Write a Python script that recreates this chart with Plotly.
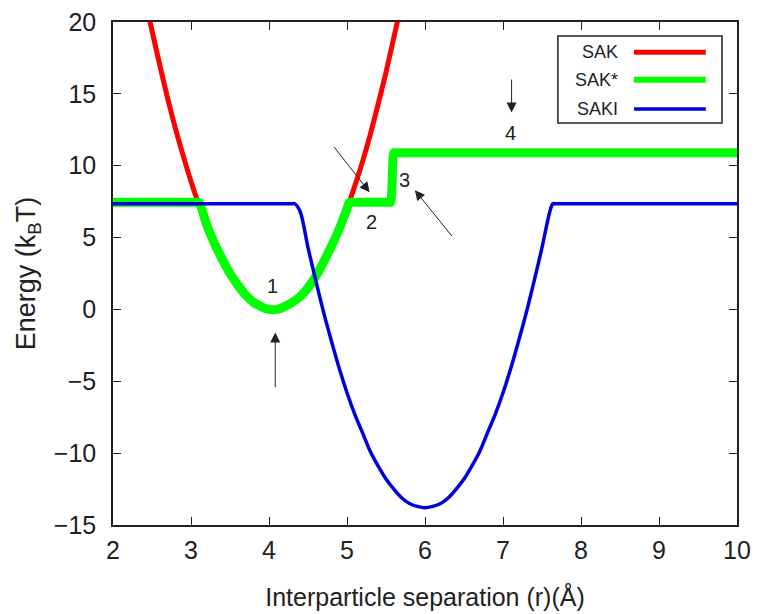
import plotly.graph_objects as go

# SAK (red) energy curve
sak_x = [2.45, 2.5, 2.6, 2.7, 2.8, 2.9, 3.0, 3.1, 3.2, 3.3, 3.4, 3.5, 3.6, 3.7, 3.8, 3.9,
         4.0, 4.1, 4.2, 4.3, 4.4, 4.5, 4.6, 4.7, 4.8, 4.9, 5.0, 5.1, 5.2, 5.3, 5.4, 5.5, 5.6, 5.67]
sak_y = [20.6, 19.4, 17.0, 14.7, 12.6, 10.7, 8.9, 7.3, 5.9, 4.6, 3.5, 2.5, 1.7, 1.0, 0.5, 0.2,
         0.0, 0.0, 0.2, 0.5, 0.9, 1.5, 2.3, 3.3, 4.4, 5.6, 7.0, 8.6, 10.3, 12.2, 14.3, 16.5, 18.9, 20.6]

# SAK* (green) energy curve
sakstar_x = [2.0, 3.05, 3.1, 3.2, 3.3, 3.4, 3.5, 3.6, 3.7, 3.8, 3.9, 4.0, 4.1, 4.2, 4.3, 4.4, 4.5,
             4.6, 4.7, 4.8, 4.9, 5.0, 5.03, 5.08, 5.55, 5.56, 5.6, 5.61, 10.0]
sakstar_y = [7.45, 7.45, 7.45, 5.9, 4.6, 3.5, 2.5, 1.7, 1.0, 0.5, 0.2, 0.0, 0.0, 0.2, 0.5, 0.9, 1.5,
             2.3, 3.3, 4.4, 5.6, 7.0, 7.45, 7.45, 7.45, 7.45, 10.9, 10.9, 10.9]

# SAKI (blue) energy curve
saki_x = [2.0, 4.28, 4.33, 4.4, 4.5, 4.6, 4.7, 4.8, 4.9, 5.0, 5.1, 5.2, 5.3, 5.4, 5.5, 5.6, 5.7, 5.8, 5.9,
          6.0, 6.1, 6.2, 6.3, 6.4, 6.5, 6.6, 6.7, 6.8, 6.9, 7.0, 7.1, 7.2, 7.3, 7.4, 7.5, 7.6, 7.64, 7.69, 10.0]
saki_y = [7.35, 7.35, 7.35, 6.8, 4.3, 2.0, -0.2, -2.2, -4.1, -5.8, -7.3, -8.6, -9.9, -10.9, -11.8, -12.5, -13.1, -13.5, -13.7,
          -13.8, -13.7, -13.5, -13.1, -12.5, -11.8, -10.9, -9.9, -8.6, -7.3, -5.8, -4.1, -2.2, -0.2, 2.0, 4.3, 6.8, 7.35, 7.35, 7.35]

series_names = ["SAK", "SAK*", "SAKI"]
series_colors = ["#ff0000", "#00ff00", "#0000dd"]
series_widths = [5, 9, 3.5]

# annotation labels: (label, label_x, label_y, tail_x, tail_y, head_x, head_y)
marker_labels = ["1", "2", "3", "4"]
label_x = [4.05, 5.32, 5.74, 7.09]
label_y = [1.6, 6.1, 9.0, 12.3]
arrow_tail_x = [4.08, 4.82, 6.36, 7.11]
arrow_tail_y = [-5.5, 11.4, 5.0, 16.1]
arrow_head_x = [4.08, 5.29, 5.87, 7.11]
arrow_head_y = [-1.6, 8.15, 8.3, 13.7]

x_ticks = [2, 3, 4, 5, 6, 7, 8, 9, 10]
y_ticks = [-15, -10, -5, 0, 5, 10, 15, 20]

fig = go.Figure()
data = [(sak_x, sak_y), (sakstar_x, sakstar_y), (saki_x, saki_y)]
for (xs, ys), name, col, w in zip(data, series_names, series_colors, series_widths):
    fig.add_trace(go.Scatter(x=xs, y=ys, mode="lines", name=name,
                             line=dict(color=col, width=w, shape="spline", smoothing=0.8),
                             showlegend=False, cliponaxis=True))

font_family = "Liberation Sans, Arial, sans-serif"

# arrows and labels
for lab, lx, ly, tx, ty, hx, hy in zip(marker_labels, label_x, label_y,
                                       arrow_tail_x, arrow_tail_y, arrow_head_x, arrow_head_y):
    fig.add_annotation(x=hx, y=hy, ax=tx, ay=ty, xref="x", yref="y", axref="x", ayref="y",
                       showarrow=True, arrowhead=2, arrowsize=2, arrowwidth=1,
                       arrowcolor="#222222", text="")
    fig.add_annotation(x=lx, y=ly, xref="x", yref="y", text=lab, showarrow=False,
                       font=dict(family=font_family, size=20, color="#222222"))

# manual gnuplot-style legend box
leg_x0, leg_x1, leg_y0, leg_y1 = 0.713, 0.976, 0.799, 0.972
fig.add_shape(type="rect", xref="paper", yref="paper", x0=leg_x0, x1=leg_x1, y0=leg_y0, y1=leg_y1,
              line=dict(color="#222222", width=1.5), fillcolor="white", layer="above")
row_y = [0.940, 0.885, 0.827]
for name, col, w, ry in zip(series_names, series_colors, series_widths, row_y):
    fig.add_annotation(x=0.8125, y=ry, xref="paper", yref="paper", text=name, showarrow=False,
                       xanchor="right", yanchor="middle",
                       font=dict(family=font_family, size=18, color="#222222"))
    fig.add_shape(type="line", xref="paper", yref="paper", x0=0.835, x1=0.950, y0=ry, y1=ry,
                  line=dict(color=col, width=min(w, 6)), layer="above")

fig.update_layout(
    width=757, height=614,
    margin=dict(l=113, r=20, t=22, b=89),
    paper_bgcolor="white", plot_bgcolor="white",
    font=dict(family=font_family, size=25, color="#222222"),
    xaxis=dict(range=[2, 10], tickvals=x_ticks, ticks="inside", ticklen=8, tickcolor="#222222",
               showline=True, linecolor="#222222", linewidth=1.5, mirror="ticks",
               showgrid=False, zeroline=False, ticklabelstandoff=2, automargin=False,
               title=dict(text="Interparticle separation (r)(Å)", standoff=26,
                          font=dict(size=25))),
    yaxis=dict(range=[-15, 20], tickvals=y_ticks, ticks="inside", ticklen=8, tickcolor="#222222",
               showline=True, linecolor="#222222", linewidth=1.5, mirror="ticks",
               showgrid=False, zeroline=False, ticklabelstandoff=10, automargin=False,
               title=dict(text="Energy (k<sub>B</sub>T)", standoff=10, font=dict(size=27))),
)

fig.write_html("out.html")
